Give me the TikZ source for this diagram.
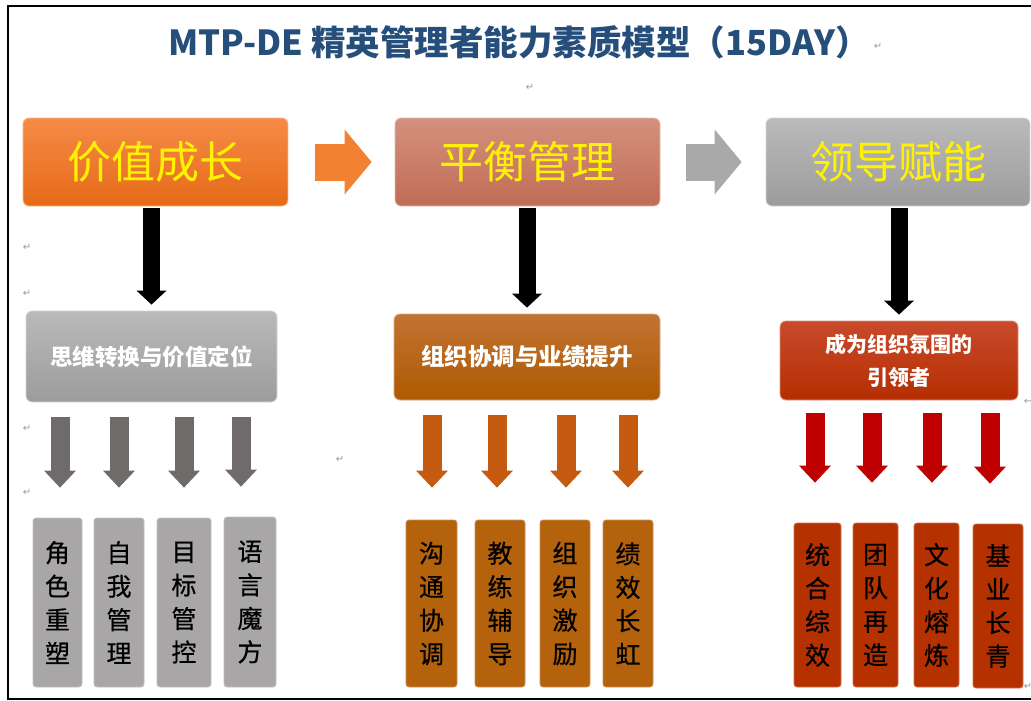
\documentclass[tikz,border=0pt]{standalone}
\usepackage{fontspec}
\setmainfont{Liberation Sans}
\newfontfamily\cjk{Noto Sans CJK SC}
\newfontfamily\cjkm[FakeBold=0.6]{Noto Sans CJK SC}
\newfontfamily\symf{DejaVu Sans}
\usetikzlibrary{arrows.meta}
\definecolor{titleblue}{HTML}{254E7B}
\definecolor{oTop}{HTML}{F58B48}
\definecolor{oBot}{HTML}{E66A18}
\definecolor{sTop}{HTML}{D4917D}
\definecolor{sBot}{HTML}{C06C56}
\definecolor{gTop}{HTML}{BABABA}
\definecolor{gBot}{HTML}{9C9C9C}
\definecolor{bTop}{HTML}{C27332}
\definecolor{bBot}{HTML}{AE5A02}
\definecolor{rTop}{HTML}{C84A2C}
\definecolor{rBot}{HTML}{B52E00}
\definecolor{arrO}{HTML}{F28232}
\definecolor{arrG}{HTML}{A9A9A9}
\definecolor{smG}{HTML}{6F6B6B}
\definecolor{smO}{HTML}{C55A11}
\definecolor{smR}{HTML}{C00000}
\definecolor{boxG}{HTML}{A8A6A6}
\definecolor{boxO}{HTML}{B4620B}
\definecolor{boxR}{HTML}{B53200}
\begin{document}
\begin{tikzpicture}[x=1pt,y=-1pt,
  topbox/.style 2 args={rounded corners=6pt, shading=axis, top color=#1, bottom color=#2,
    draw=#1!60!white, line width=0.8pt, inner sep=0pt,
    font=\cjk\fontsize{44}{44}\selectfont, text=yellow},
  midbox/.style 2 args={rounded corners=6pt, shading=axis, top color=#1, bottom color=#2,
    draw=#1!60!white, line width=0.8pt, inner sep=0pt, align=center,
    font=\cjk\bfseries\fontsize{22.5}{34}\selectfont, text=white},
  subbox/.style={rounded corners=3pt, fill=#1, draw=#1!70!white, line width=0.8pt,
    inner sep=0pt, align=center, font=\cjkm\fontsize{25}{33.5}\selectfont, text=black},
  bigdown/.style={line width=17pt, black,
    -{Triangle[length=14pt,width=30pt,line width=0pt]}, shorten <=2pt, shorten >=6pt},
  bigright/.style={line width=37pt, #1,
    -{Triangle[length=27pt,width=65pt,line width=0pt]}},
  smalldown/.style={line width=19pt, #1,
    -{Triangle[length=17pt,width=32pt,line width=0pt]}},
  pm/.style={font=\symf\fontsize{10}{10}\selectfont, text=gray!80, inner sep=0pt}
]
\useasboundingbox (0,0) rectangle (1031,701);
\fill[white] (0,0) rectangle (1031,701);
% frame
\coordinate (fTL) at (8,6);
\coordinate (fTR) at (1031,6);
\coordinate (fBL) at (8,699);
\coordinate (fBR) at (1031,699);
\draw[line width=2pt] (fTR) -- (fTL) -- (fBL) -- (fBR);

% title
\node[font=\cjk\bfseries\fontsize{34.5}{34.5}\selectfont, text=titleblue] (title) at (519,42)
  {MTP-DE 精英管理者能力素质模型（15DAY）};

% paragraph marks
\node[pm] (p1) at (878,46) {↵};
\node[pm] (p2) at (530,87) {↵};
\node[pm] (p3) at (27,247) {↵};
\node[pm] (p4) at (27,293) {↵};
\node[pm] (p5) at (27,428) {↵};
\node[pm] (p6) at (27,492) {↵};
\node[pm] (p7) at (340,459) {↵};
\node[pm] (p8) at (1028,402) {←};
\node[pm] (p9) at (1028,686) {↵};

% top boxes
\node[topbox={oTop}{oBot}, minimum width=265pt, minimum height=88pt] (t1) at (155.5,162) {价值成长};
\node[topbox={sTop}{sBot}, minimum width=265pt, minimum height=88pt] (t2) at (527.5,162) {平衡管理};
\node[topbox={gTop}{gBot}, minimum width=264pt, minimum height=88pt] (t3) at (898,162) {领导赋能};

\draw[bigright=arrO, shorten <=27pt, shorten >=23pt] (t1.east) -- (t2.west);
\draw[bigright=arrG, shorten <=26pt, shorten >=24pt] (t2.east) -- (t3.west);

% middle boxes
\node[midbox={gTop}{gBot}, minimum width=251pt, minimum height=91pt] (m1) at (151.5,356.5) {思维转换与价值定位};
\node[midbox={bTop}{bBot}, minimum width=266pt, minimum height=86pt, font=\cjk\bfseries\fontsize{23.5}{34}\selectfont] (m2) at (527,357) {组织协调与业绩提升};
\node[midbox={rTop}{rBot}, minimum width=238pt, minimum height=79pt, font=\cjk\bfseries\fontsize{21}{33}\selectfont] (m3) at (899,360.5) {成为组织氛围的\\引领者};

\draw[bigdown] (t1.south -| m1.north) -- (m1.north);
\draw[bigdown] (t2.south -| m2.north) -- (m2.north);
\draw[bigdown] (t3.south -| m3.north) -- (m3.north);

% bottom boxes
\node[subbox=boxG, minimum width=49pt, minimum height=169pt] (g1) at (57.5,602.5) {角\\色\\重\\塑};
\node[subbox=boxG, minimum width=50pt, minimum height=169pt] (g2) at (119,602.5) {自\\我\\管\\理};
\node[subbox=boxG, minimum width=54pt, minimum height=169pt] (g3) at (184,602.5) {目\\标\\管\\控};
\node[subbox=boxG, minimum width=52pt, minimum height=170pt] (g4) at (250,602) {语\\言\\魔\\方};

\node[subbox=boxO, minimum width=51pt, minimum height=167pt] (o1) at (431.5,603.5) {沟\\通\\协\\调};
\node[subbox=boxO, minimum width=50pt, minimum height=167pt] (o2) at (500,603.5) {教\\练\\辅\\导};
\node[subbox=boxO, minimum width=50pt, minimum height=167pt] (o3) at (565,603.5) {组\\织\\激\\励};
\node[subbox=boxO, minimum width=50pt, minimum height=167pt] (o4) at (628,603.5) {绩\\效\\长\\虹};

\node[subbox=boxR, minimum width=47pt, minimum height=164pt] (r1) at (817.5,605) {统\\合\\综\\效};
\node[subbox=boxR, minimum width=45pt, minimum height=164pt] (r2) at (875.5,605) {团\\队\\再\\造};
\node[subbox=boxR, minimum width=45pt, minimum height=164pt] (r3) at (936.5,605) {文\\化\\熔\\炼};
\node[subbox=boxR, minimum width=50pt, minimum height=164pt] (r4) at (998,606) {基\\业\\长\\青};

% small arrows
\foreach \b/\x in {g1/60,g2/119,g3/184,g4/241}
  \draw[smalldown=smG, shorten <=15pt, shorten >=30pt] (m1.south -| \x,0) -- (\b.north -| \x,0);
\foreach \b/\x in {o1/432,o2/497,o3/566,o4/628}
  \draw[smalldown=smO, shorten <=15pt, shorten >=32pt] (m2.south -| \x,0) -- (\b.north -| \x,0);
\foreach \b/\x in {r1/815,r2/872,r3/932,r4/990}
  \draw[smalldown=smR, shorten <=13pt, shorten >=40pt] (m3.south -| \x,0) -- (\b.north -| \x,0);
\end{tikzpicture}
\end{document}
